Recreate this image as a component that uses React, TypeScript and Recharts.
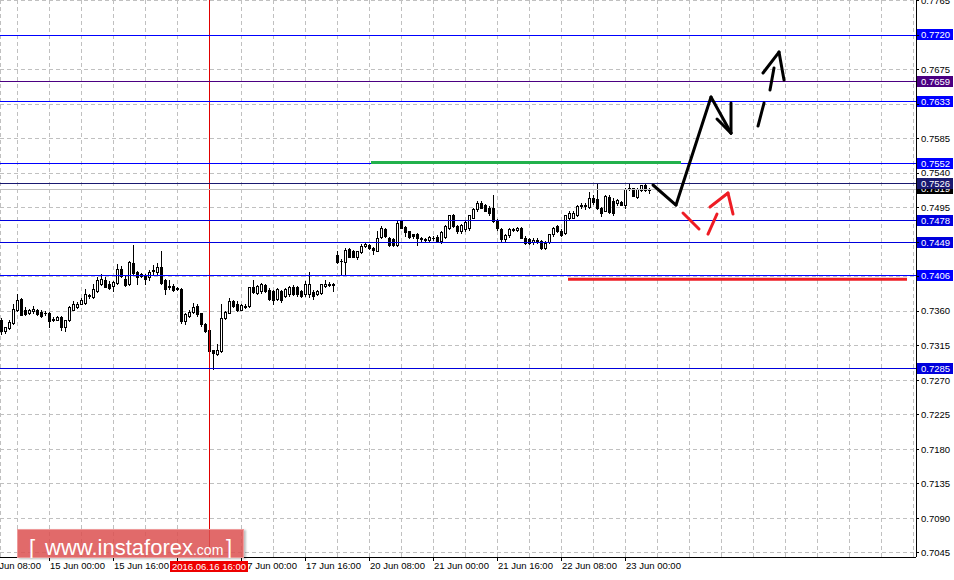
import React from 'react';
import { ComposedChart, Bar, XAxis, YAxis, CartesianGrid, ReferenceLine } from 'recharts';

const FONT = '"Liberation Sans", Arial, sans-serif';

// AUDUSD H1, one bar per hour, bar 0 = 14 Jun 12:00
const opens = [
    0.7349, 0.7334, 0.7338, 0.7344, 0.7362, 0.7376, 0.7362, 0.7358, 0.7360, 0.7361,
    0.7359, 0.7358, 0.7358, 0.7350, 0.7349, 0.7353, 0.7340, 0.7348, 0.7362, 0.7366,
    0.7370, 0.7371, 0.7380, 0.7379, 0.7386, 0.7395, 0.7401, 0.7395, 0.7393, 0.7397,
    0.7415, 0.7402, 0.7396, 0.7423, 0.7411, 0.7408, 0.7406, 0.7404, 0.7412, 0.7411,
    0.7418, 0.7400, 0.7392, 0.7393, 0.7390, 0.7389, 0.7347, 0.7354, 0.7359, 0.7367,
    0.7357, 0.7343, 0.7335, 0.7309, 0.7304, 0.7308, 0.7351, 0.7358, 0.7373, 0.7370,
    0.7362, 0.7367, 0.7367, 0.7391, 0.7384, 0.7386, 0.7394, 0.7388, 0.7386, 0.7376,
    0.7386, 0.7380, 0.7382, 0.7392, 0.7391, 0.7386, 0.7382, 0.7382, 0.7385, 0.7382,
    0.7384, 0.7393, 0.7396, 0.7395, 0.7433, 0.7426, 0.7424, 0.7441, 0.7438, 0.7431,
    0.7437, 0.7445, 0.7446, 0.7443, 0.7439, 0.7457, 0.7467, 0.7455, 0.7454, 0.7446,
    0.7478, 0.7470, 0.7464, 0.7460, 0.7460, 0.7455, 0.7454, 0.7453, 0.7456, 0.7457,
    0.7451, 0.7457, 0.7469, 0.7485, 0.7471, 0.7464, 0.7467, 0.7468, 0.7482, 0.7493,
    0.7501, 0.7499, 0.7495, 0.7494, 0.7478, 0.7467, 0.7454, 0.7459, 0.7467, 0.7466,
    0.7468, 0.7456, 0.7454, 0.7450, 0.7453, 0.7451, 0.7443, 0.7450, 0.7460, 0.7471,
    0.7465, 0.7462, 0.7481, 0.7482, 0.7486, 0.7497, 0.7497, 0.7496, 0.7508, 0.7506,
    0.7495, 0.7491, 0.7509, 0.7503, 0.7501, 0.7502, 0.7498, 0.7520, 0.7520, 0.7509,
    0.7518, 0.7524, 0.7519,
];
const highs = [
    0.7351, 0.7340, 0.7348, 0.7369, 0.7382, 0.7377, 0.7366, 0.7363, 0.7367, 0.7363,
    0.7361, 0.7360, 0.7359, 0.7353, 0.7354, 0.7354, 0.7349, 0.7367, 0.7373, 0.7372,
    0.7377, 0.7389, 0.7383, 0.7395, 0.7404, 0.7408, 0.7404, 0.7399, 0.7399, 0.7421,
    0.7419, 0.7406, 0.7425, 0.7446, 0.7412, 0.7410, 0.7408, 0.7414, 0.7420, 0.7423,
    0.7438, 0.7402, 0.7401, 0.7395, 0.7392, 0.7390, 0.7358, 0.7362, 0.7371, 0.7369,
    0.7358, 0.7345, 0.7336, 0.7310, 0.7317, 0.7369, 0.7360, 0.7377, 0.7375, 0.7373,
    0.7369, 0.7370, 0.7392, 0.7401, 0.7394, 0.7397, 0.7396, 0.7390, 0.7388, 0.7390,
    0.7388, 0.7390, 0.7393, 0.7394, 0.7393, 0.7388, 0.7399, 0.7411, 0.7387, 0.7387,
    0.7396, 0.7401, 0.7398, 0.7397, 0.7438, 0.7428, 0.7442, 0.7443, 0.7440, 0.7439,
    0.7447, 0.7449, 0.7448, 0.7444, 0.7465, 0.7471, 0.7469, 0.7457, 0.7456, 0.7478,
    0.7479, 0.7471, 0.7465, 0.7461, 0.7462, 0.7457, 0.7456, 0.7458, 0.7458, 0.7459,
    0.7464, 0.7472, 0.7486, 0.7487, 0.7473, 0.7474, 0.7477, 0.7486, 0.7495, 0.7503,
    0.7504, 0.7500, 0.7497, 0.7512, 0.7480, 0.7468, 0.7461, 0.7468, 0.7469, 0.7470,
    0.7470, 0.7458, 0.7456, 0.7455, 0.7455, 0.7453, 0.7451, 0.7461, 0.7470, 0.7473,
    0.7467, 0.7486, 0.7490, 0.7490, 0.7499, 0.7501, 0.7501, 0.7515, 0.7512, 0.7526,
    0.7496, 0.7512, 0.7511, 0.7508, 0.7506, 0.7504, 0.7521, 0.7526, 0.7521, 0.7520,
    0.7525, 0.7526, 0.7520,
];
const lows = [
    0.7330, 0.7331, 0.7337, 0.7343, 0.7360, 0.7355, 0.7355, 0.7356, 0.7358, 0.7355,
    0.7353, 0.7355, 0.7340, 0.7347, 0.7348, 0.7335, 0.7334, 0.7347, 0.7361, 0.7364,
    0.7369, 0.7369, 0.7377, 0.7377, 0.7385, 0.7394, 0.7392, 0.7389, 0.7386, 0.7396,
    0.7405, 0.7393, 0.7394, 0.7408, 0.7396, 0.7405, 0.7396, 0.7401, 0.7409, 0.7409,
    0.7395, 0.7383, 0.7389, 0.7386, 0.7387, 0.7345, 0.7343, 0.7353, 0.7358, 0.7354,
    0.7341, 0.7333, 0.7306, 0.7285, 0.7303, 0.7307, 0.7350, 0.7357, 0.7366, 0.7360,
    0.7361, 0.7364, 0.7366, 0.7384, 0.7382, 0.7384, 0.7385, 0.7375, 0.7370, 0.7375,
    0.7372, 0.7378, 0.7380, 0.7381, 0.7380, 0.7378, 0.7380, 0.7378, 0.7376, 0.7381,
    0.7383, 0.7391, 0.7393, 0.7386, 0.7423, 0.7407, 0.7407, 0.7430, 0.7430, 0.7428,
    0.7436, 0.7444, 0.7441, 0.7434, 0.7438, 0.7456, 0.7457, 0.7445, 0.7445, 0.7445,
    0.7468, 0.7458, 0.7456, 0.7455, 0.7446, 0.7452, 0.7450, 0.7451, 0.7453, 0.7450,
    0.7449, 0.7455, 0.7467, 0.7470, 0.7462, 0.7462, 0.7465, 0.7466, 0.7481, 0.7491,
    0.7494, 0.7490, 0.7486, 0.7476, 0.7466, 0.7452, 0.7452, 0.7457, 0.7464, 0.7464,
    0.7455, 0.7447, 0.7447, 0.7448, 0.7449, 0.7441, 0.7441, 0.7449, 0.7458, 0.7463,
    0.7458, 0.7460, 0.7480, 0.7481, 0.7484, 0.7494, 0.7493, 0.7495, 0.7500, 0.7493,
    0.7484, 0.7490, 0.7488, 0.7486, 0.7499, 0.7498, 0.7495, 0.7518, 0.7510, 0.7508,
    0.7517, 0.7517, 0.7514,
];
const closes = [
    0.7334, 0.7339, 0.7346, 0.7363, 0.7375, 0.7355, 0.7356, 0.7361, 0.7363, 0.7356,
    0.7354, 0.7357, 0.7347, 0.7349, 0.7352, 0.7340, 0.7348, 0.7365, 0.7369, 0.7370,
    0.7374, 0.7382, 0.7381, 0.7389, 0.7401, 0.7402, 0.7392, 0.7390, 0.7398, 0.7415,
    0.7406, 0.7394, 0.7424, 0.7410, 0.7405, 0.7406, 0.7402, 0.7411, 0.7414, 0.7418,
    0.7397, 0.7389, 0.7393, 0.7388, 0.7389, 0.7347, 0.7356, 0.7359, 0.7366, 0.7356,
    0.7343, 0.7334, 0.7308, 0.7306, 0.7310, 0.7351, 0.7359, 0.7373, 0.7367, 0.7362,
    0.7368, 0.7367, 0.7391, 0.7385, 0.7393, 0.7395, 0.7386, 0.7376, 0.7375, 0.7389,
    0.7375, 0.7389, 0.7392, 0.7383, 0.7382, 0.7380, 0.7395, 0.7395, 0.7380, 0.7386,
    0.7395, 0.7395, 0.7394, 0.7394, 0.7424, 0.7425, 0.7440, 0.7431, 0.7431, 0.7438,
    0.7445, 0.7447, 0.7442, 0.7440, 0.7456, 0.7468, 0.7458, 0.7446, 0.7446, 0.7475,
    0.7469, 0.7463, 0.7457, 0.7458, 0.7456, 0.7454, 0.7453, 0.7457, 0.7455, 0.7451,
    0.7463, 0.7471, 0.7485, 0.7471, 0.7464, 0.7473, 0.7476, 0.7485, 0.7493, 0.7501,
    0.7495, 0.7491, 0.7488, 0.7478, 0.7468, 0.7454, 0.7459, 0.7467, 0.7466, 0.7468,
    0.7456, 0.7449, 0.7449, 0.7453, 0.7451, 0.7443, 0.7449, 0.7460, 0.7469, 0.7464,
    0.7459, 0.7485, 0.7488, 0.7488, 0.7497, 0.7498, 0.7499, 0.7508, 0.7502, 0.7494,
    0.7488, 0.7510, 0.7489, 0.7488, 0.7505, 0.7499, 0.7519, 0.7521, 0.7510, 0.7519,
    0.7524, 0.7518, 0.7519,
];

const priceTicks = [
    0.7765, 0.772, 0.7675, 0.763, 0.7585, 0.754, 0.7495, 0.745, 0.7405,
    0.736, 0.7315, 0.727, 0.7225, 0.718, 0.7135, 0.709, 0.7045,
];

const timeLabelBars = [-4, 12, 28, 44, 60, 76, 92, 108, 124, 140, 156];
const timeLabels = [
    '14 Jun 08:00', '15 Jun 00:00', '15 Jun 16:00', '16 Jun 08:00', '17 Jun 00:00', '17 Jun 16:00',
    '20 Jun 08:00', '21 Jun 00:00', '21 Jun 16:00', '22 Jun 08:00', '23 Jun 00:00',
];

// horizontal levels drawn on the chart
const levelPrices = [0.772, 0.7659, 0.7633, 0.7552, 0.7526, 0.7478, 0.7449, 0.7406, 0.7285];
const levelColors = ['#0000ff', '#4b0082', '#0000ff', '#0000ff', '#191970', '#0000dd', '#0000dd', '#0000ff', '#0000dd'];
const bidPrice = 0.7519;

const crosshairBar = 52;
const crosshairText = '2016.06.16 16:00';

// thick target segments [fromBar, toBar, price]
const greenSegment = [92.5, 170, 0.75538];
const redSegment = [141.75, 226.5, 0.74015];

// hand drawn arrows, points as [bar, price]
const arrowPaths = [
    { color: '#000', pts: [[163, 0.75245], [168.75, 0.74984], [177.5, 0.76392], [182.5, 0.75922]] },
    { color: '#000', pts: [[179, 0.76105], [182.5, 0.75922], [182.5, 0.76314]] },
    { color: '#000', pts: [[189.25, 0.76014], [190.75, 0.76314]] },
    { color: '#000', pts: [[192.25, 0.76483], [193.25, 0.7677]] },
    { color: '#000', pts: [[190.5, 0.76705], [194.5, 0.76978], [195.75, 0.76613]] },
    { color: '#ee1c24', pts: [[170.5, 0.7488], [174.5, 0.74671]] },
    { color: '#ee1c24', pts: [[176.75, 0.74606], [179, 0.74867]] },
    { color: '#ee1c24', pts: [[177.25, 0.74958], [181.75, 0.7514], [183, 0.74867]] },
];

const candles = opens.map((o, i) => ({ i, open: o, high: highs[i], low: lows[i], close: closes[i] }));

// grid every 8 bars; the crosshair bar goes last so its date tag is painted over the other labels
const gridBars: number[] = [];
for (let b = -4; b <= 228; b += 8) gridBars.push(b);
const xTicks = [...gridBars, crosshairBar];

const Candle = (props: any) => {
    const { x, y, width, height, payload } = props;
    const { open, close, high, low } = payload;
    const top = Math.min(y, y + height);
    const h = Math.abs(height);
    const k = high > low ? h / (high - low) : 0;
    const cx = Math.round(x + width / 2);
    const bTop = Math.round(top + (high - Math.max(open, close)) * k);
    const bBot = Math.round(top + (high - Math.min(open, close)) * k);
    const up = close >= open;
    return (
        <g>
            <line x1={cx + 0.5} x2={cx + 0.5} y1={Math.round(top)} y2={Math.round(top + h) + 1} stroke="#000" strokeWidth={1} />
            {up ? (
                <rect x={cx - 0.5} y={bTop + 0.5} width={2} height={Math.max(1, bBot - bTop)} fill="#fff" stroke="#000" strokeWidth={1} />
            ) : (
                <rect x={cx - 1} y={bTop} width={3} height={Math.max(1, bBot - bTop + 1)} fill="#000" />
            )}
        </g>
    );
};

const PriceTag = ({ viewBox, text, bg }: any) => {
    const left = viewBox.x + viewBox.width + 1;
    const y = Math.round(viewBox.y);
    return (
        <g>
            <rect x={left} y={y - 6} width={36} height={11} fill={bg} />
            <text x={left + 4} y={y} dy="0.35em" fill="#fff" fontSize={9.5} fontFamily={FONT}>{text}</text>
        </g>
    );
};

const PriceTick = ({ x, y, payload }: any) => {
    const hidden = [...levelPrices, bidPrice].some((p) => Math.abs(p - payload.value) < 0.0009);
    return (
        <g>
            <line x1={x} x2={x + 3} y1={y} y2={y} stroke="#000" shapeRendering="crispEdges" />
            {!hidden && (
                <text x={x + 5} y={y} dy="0.35em" fill="#000" fontSize={9.5} fontFamily={FONT}>
                    {payload.value.toFixed(4)}
                </text>
            )}
        </g>
    );
};

const TimeTick = ({ x, y, payload, index }: any) => {
    if (index === xTicks.length - 1) {
        // crosshair date tag
        return (
            <g>
                <rect x={x - 39} y={y + 4} width={78} height={11} fill="#ee0000" />
                <text x={x} y={y + 9.5} dy="0.35em" textAnchor="middle" fill="#fff" fontSize={9.5} fontFamily={FONT}>
                    {crosshairText}
                </text>
            </g>
        );
    }
    const k = timeLabelBars.indexOf(payload.value);
    if (k < 0) return <g />;
    return (
        <g>
            <line x1={x + 0.5} x2={x + 0.5} y1={y} y2={y + 4} stroke="#000" />
            <text x={x + 1} y={y + 9} dy="0.35em" fill="#000" fontSize={9.5} fontFamily={FONT}>{timeLabels[k]}</text>
        </g>
    );
};

export default function App() {
    return (
        <div style={{ position: 'absolute', left: 0, top: 0, width: 954, height: 580, background: '#fff' }}>
            <style>{`
                .recharts-cartesian-grid line, .recharts-cartesian-axis-line { shape-rendering: crispEdges; }
            `}</style>
            <ComposedChart width={954} height={580} data={candles} margin={{ top: 0, right: 0, bottom: 0, left: 0 }}>
                <CartesianGrid stroke="#c0c0c0" strokeDasharray="4 3" />
                <XAxis
                    dataKey="i"
                    type="number"
                    domain={[-0.25, 228.75]}
                    allowDataOverflow
                    ticks={xTicks}
                    interval={0}
                    height={23}
                    tickSize={0}
                    tickMargin={0}
                    axisLine={{ stroke: '#000' }}
                    tick={<TimeTick />}
                />
                <YAxis
                    orientation="right"
                    type="number"
                    domain={[0.70395, 0.77657]}
                    allowDataOverflow
                    ticks={priceTicks}
                    interval={0}
                    width={38}
                    tickSize={0}
                    tickMargin={0}
                    axisLine={{ stroke: '#000' }}
                    tick={<PriceTick />}
                />
                <Bar dataKey={(d: any) => [d.low, d.high]} barSize={3} shape={Candle} isAnimationActive={false} />

                <ReferenceLine x={crosshairBar} stroke="#e00000" shapeRendering="crispEdges" />
                <ReferenceLine y={bidPrice} stroke="#c0c0c0" shapeRendering="crispEdges" label={<PriceTag text={bidPrice.toFixed(4)} bg="#000" />} />
                {levelPrices.map((p, n) => (
                    <ReferenceLine
                        key={`lvl-${n}`}
                        y={p}
                        stroke={levelColors[n]}
                        shapeRendering="crispEdges"
                        label={<PriceTag text={p.toFixed(4)} bg={levelColors[n]} />}
                    />
                ))}
                <ReferenceLine
                    segment={[{ x: greenSegment[0], y: greenSegment[2] }, { x: greenSegment[1], y: greenSegment[2] }]}
                    stroke="#22b14c"
                    strokeWidth={3}
                />
                <ReferenceLine
                    segment={[{ x: redSegment[0], y: redSegment[2] }, { x: redSegment[1], y: redSegment[2] }]}
                    stroke="#ee1c24"
                    strokeWidth={3}
                />
                {arrowPaths.flatMap((a, n) =>
                    a.pts.slice(1).map((pt, m) => (
                        <ReferenceLine
                            key={`arr-${n}-${m}`}
                            segment={[{ x: a.pts[m][0], y: a.pts[m][1] }, { x: pt[0], y: pt[1] }]}
                            stroke={a.color}
                            strokeWidth={3}
                            strokeLinecap="round"
                        />
                    ))
                )}
            </ComposedChart>
            <div
                style={{
                    position: 'absolute',
                    left: 17,
                    top: 529,
                    width: 227,
                    height: 29,
                    background: 'rgba(220, 80, 80, 0.85)',
                    boxShadow: '2px 1px 2px rgba(0,0,0,0.25)',
                    border: '1px solid rgba(240,160,160,0.9)',
                    boxSizing: 'border-box',
                }}
            >
                <svg width={227} height={29} style={{ position: 'absolute', left: -1, top: -1 }}>
                    <text x={12} y={26} fill="#fff" fontSize={22} fontFamily={FONT} fontWeight={300}>[</text>
                    <text x={28} y={26} fill="#fff" fontFamily={FONT}>
                        <tspan fontSize={22}>www.instaforex</tspan>
                        <tspan fontSize={14}>.com</tspan>
                    </text>
                    <text x={209} y={26} fill="#fff" fontSize={22} fontFamily={FONT}>]</text>
                </svg>
            </div>
        </div>
    );
}
